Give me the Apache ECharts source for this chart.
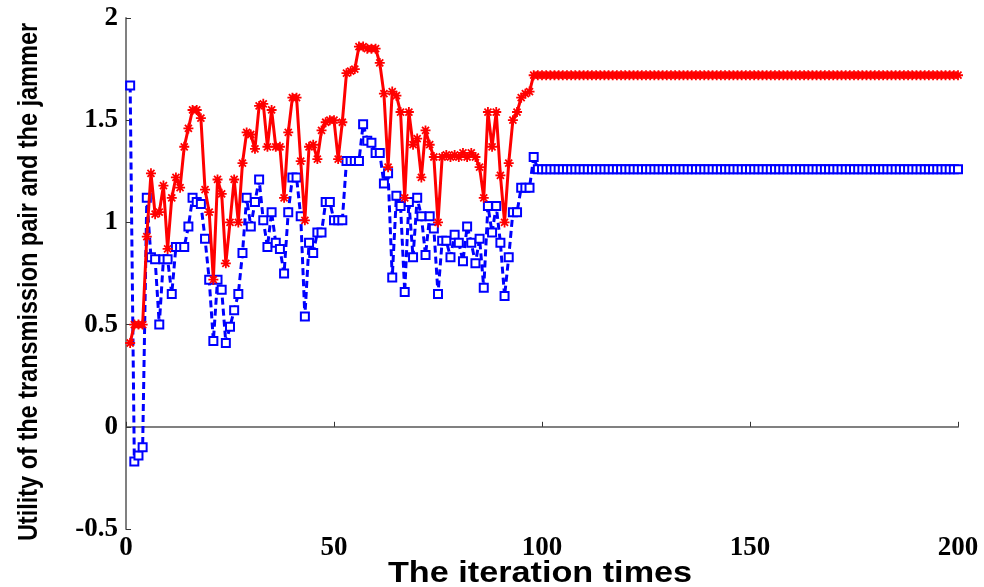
<!DOCTYPE html>
<html>
<head>
<meta charset="utf-8">
<script src="https://cdn.jsdelivr.net/npm/echarts@6/dist/echarts.min.js"></script>
<style>html,body{margin:0;padding:0;background:#fff;}#c{width:984px;height:587px;}</style>
</head>
<body>
<div id="c"></div>
<script>
// Utility of the transmission pair (blue, dashed, squares) per iteration 1..200
const transmissionUtility = [
  1.67, -0.17, -0.14, -0.10, 1.12, 0.83, 0.82, 0.50, 0.82, 0.82,
  0.65, 0.88, 0.88, 0.88, 0.98, 1.12, 1.10, 1.09, 0.92, 0.72,
  0.42, 0.72, 0.67, 0.41, 0.49, 0.57, 0.65, 0.85, 1.12, 0.98,
  1.10, 1.21, 1.01, 0.88, 1.05, 0.90, 0.87, 0.75, 1.05, 1.22,
  1.22, 1.03, 0.54, 0.90, 0.85, 0.95, 0.95, 1.10, 1.10, 1.01,
  1.01, 1.01, 1.30, 1.30, 1.30, 1.30, 1.48, 1.40, 1.39, 1.34,
  1.34, 1.19, 1.24, 0.73, 1.13, 1.08, 0.66, 1.10, 0.83, 1.12,
  1.03, 0.84, 1.03, 0.97, 0.65, 0.91, 0.91, 0.83, 0.94, 0.90,
  0.81, 0.98, 0.90, 0.80, 0.92, 0.68, 1.08, 0.95, 1.08, 0.90,
  0.64, 0.83, 1.05, 1.05, 1.17, 1.17, 1.17, 1.32,
  1.26, 1.26, 1.26, 1.26, 1.26, 1.26, 1.26, 1.26, 1.26, 1.26, 1.26, 1.26, 1.26, 1.26, 1.26, 1.26, 1.26,
  1.26, 1.26, 1.26, 1.26, 1.26, 1.26, 1.26, 1.26, 1.26, 1.26, 1.26, 1.26, 1.26, 1.26, 1.26, 1.26, 1.26,
  1.26, 1.26, 1.26, 1.26, 1.26, 1.26, 1.26, 1.26, 1.26, 1.26, 1.26, 1.26, 1.26, 1.26, 1.26, 1.26, 1.26,
  1.26, 1.26, 1.26, 1.26, 1.26, 1.26, 1.26, 1.26, 1.26, 1.26, 1.26, 1.26, 1.26, 1.26, 1.26, 1.26, 1.26,
  1.26, 1.26, 1.26, 1.26, 1.26, 1.26, 1.26, 1.26, 1.26, 1.26, 1.26, 1.26, 1.26, 1.26, 1.26, 1.26, 1.26,
  1.26, 1.26, 1.26, 1.26, 1.26, 1.26, 1.26, 1.26, 1.26, 1.26, 1.26, 1.26, 1.26, 1.26, 1.26, 1.26, 1.26
];
// Utility of the jammer (red, solid, star markers) per iteration 1..200
const jammerUtility = [
  0.41, 0.50, 0.50, 0.50, 0.93, 1.24, 1.04, 1.05, 1.18, 0.87,
  1.12, 1.22, 1.17, 1.37, 1.46, 1.55, 1.55, 1.51, 1.16, 1.05,
  0.72, 1.21, 1.14, 0.80, 1.00, 1.21, 1.00, 1.29, 1.44, 1.43,
  1.36, 1.57, 1.58, 1.37, 1.55, 1.37, 1.37, 1.12, 1.44, 1.61,
  1.61, 1.30, 1.01, 1.37, 1.38, 1.31, 1.45, 1.49, 1.50, 1.50,
  1.31, 1.49, 1.73, 1.74, 1.75, 1.86, 1.86, 1.85, 1.85, 1.85,
  1.78, 1.63, 1.27, 1.64, 1.62, 1.54, 1.12, 1.54, 1.38, 1.41,
  1.22, 1.45, 1.38, 1.32, 1.00, 1.32, 1.33, 1.32, 1.33, 1.32,
  1.34, 1.32, 1.34, 1.32, 1.27, 1.12, 1.54, 1.37, 1.54, 1.23,
  1.00, 1.29, 1.50, 1.54, 1.61, 1.63, 1.64, 1.72,
  1.72, 1.72, 1.72, 1.72, 1.72, 1.72, 1.72, 1.72, 1.72, 1.72, 1.72, 1.72, 1.72, 1.72, 1.72, 1.72, 1.72,
  1.72, 1.72, 1.72, 1.72, 1.72, 1.72, 1.72, 1.72, 1.72, 1.72, 1.72, 1.72, 1.72, 1.72, 1.72, 1.72, 1.72,
  1.72, 1.72, 1.72, 1.72, 1.72, 1.72, 1.72, 1.72, 1.72, 1.72, 1.72, 1.72, 1.72, 1.72, 1.72, 1.72, 1.72,
  1.72, 1.72, 1.72, 1.72, 1.72, 1.72, 1.72, 1.72, 1.72, 1.72, 1.72, 1.72, 1.72, 1.72, 1.72, 1.72, 1.72,
  1.72, 1.72, 1.72, 1.72, 1.72, 1.72, 1.72, 1.72, 1.72, 1.72, 1.72, 1.72, 1.72, 1.72, 1.72, 1.72, 1.72,
  1.72, 1.72, 1.72, 1.72, 1.72, 1.72, 1.72, 1.72, 1.72, 1.72, 1.72, 1.72, 1.72, 1.72, 1.72, 1.72, 1.72
];
const xTicks = [0, 50, 100, 150, 200];
const yTicks = [-0.5, 0, 0.5, 1, 1.5, 2];
const xTitle = 'The iteration times';
const yTitle = 'Utility of the transmission pair and the jammer';

const toPairs = arr => arr.map((v, i) => [i + 1, v]);

const tickFont = { fontFamily: "'Liberation Serif', 'Times New Roman', serif", fontWeight: 'bold', fontSize: 27, color: '#000' };
const axisLineStyle = { color: '#808080', width: 2 };

const chart = echarts.init(document.getElementById('c'), null, { renderer: 'canvas' });
chart.setOption({
  animation: false,
  backgroundColor: '#fff',
  grid: { left: 126, right: 26, top: 18, bottom: 58, containLabel: false, outerBoundsMode: 'none' },
  xAxis: {
    type: 'value', min: xTicks[0], max: xTicks[xTicks.length - 1], interval: 50,
    axisLine: { show: true, lineStyle: axisLineStyle },
    axisTick: { show: true, inside: true, length: 5, lineStyle: { color: '#333', width: 1 } },
    splitLine: { show: false },
    axisLabel: { ...tickFont, margin: 6 }
  },
  yAxis: {
    type: 'value', min: yTicks[0], max: yTicks[yTicks.length - 1], interval: 0.5,
    axisLine: { show: true, lineStyle: axisLineStyle },
    axisTick: { show: true, inside: true, length: 5, lineStyle: { color: '#333', width: 1 } },
    splitLine: { show: false },
    axisLabel: { ...tickFont, margin: 8 }
  },
  graphic: [
    {
      type: 'text', x: 540, y: 574, scaleX: 1.18,
      style: { text: xTitle, fontFamily: "'Liberation Sans', Arial, sans-serif", fontWeight: 'bold', fontSize: 29, fill: '#000', align: 'center', verticalAlign: 'middle' }
    },
    {
      type: 'text', x: 30, y: 282, rotation: Math.PI / 2, scaleX: 0.87,
      style: { text: yTitle, fontFamily: "'Liberation Sans', Arial, sans-serif", fontWeight: 'bold', fontSize: 27, fill: '#000', align: 'center', verticalAlign: 'middle' }
    }
  ],
  series: [
    {
      name: 'transmission pair', type: 'line', data: toPairs(transmissionUtility),
      symbol: 'emptyRect', symbolSize: 8, showAllSymbol: true,
      lineStyle: { color: '#0000ff', width: 3, type: [7, 4] },
      itemStyle: { color: '#0000ff', borderColor: '#0000ff', borderWidth: 3 },
      z: 2
    },
    {
      name: 'jammer', type: 'line', data: toPairs(jammerUtility),
      symbol: 'path://M0,5L10,5M5,0L5,10M1.5,1.5L8.5,8.5M8.5,1.5L1.5,8.5', symbolSize: 10, showAllSymbol: true,
      lineStyle: { color: '#ff0000', width: 3 },
      itemStyle: { color: 'none', borderColor: '#ff0000', borderWidth: 1.8 },
      z: 3
    }
  ]
});
</script>
</body>
</html>
